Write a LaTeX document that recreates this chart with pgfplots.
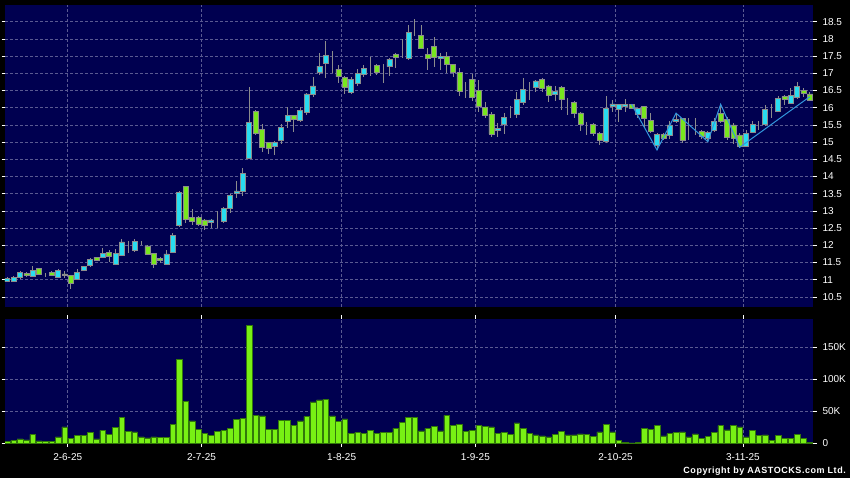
\documentclass[border=0pt]{standalone}
\usepackage{pgfplots}
\pgfplotsset{compat=1.18}
\usepackage{pgfplotstable}
\usepackage{fontspec}
\setmainfont{Liberation Sans}
\definecolor{panel}{RGB}{0,0,80}
\definecolor{gridc}{RGB}{90,90,145}
\definecolor{upc}{RGB}{40,220,240}
\definecolor{dnc}{RGB}{120,230,30}
\definecolor{outl}{RGB}{140,140,140}
\definecolor{zz}{RGB}{50,150,220}
\definecolor{volc}{RGB}{120,240,20}
\definecolor{voledge}{RGB}{50,120,10}

\pgfplotstableread{
k o h l c
0 10.95 11.07 10.92 11.03
1 10.95 11.10 10.93 11.07
2 11.06 11.24 11.03 11.21
3 11.19 11.22 11.08 11.12
4 11.10 11.40 11.08 11.28
5 11.33 11.35 11.15 11.17
6 11.13 11.18 11.07 11.13
7 11.22 11.24 11.10 11.13
8 11.08 11.30 11.06 11.28
9 11.17 11.26 11.05 11.12
10 11.13 11.14 10.72 10.90
11 11.01 11.30 11.00 11.21
12 11.27 11.40 11.26 11.39
13 11.42 11.62 11.38 11.59
14 11.65 11.67 11.55 11.57
15 11.64 11.91 11.62 11.77
16 11.80 11.85 11.51 11.67
17 11.45 11.89 11.43 11.77
18 11.71 12.17 11.68 12.10
19 11.96 12.12 11.77 11.96
20 11.85 12.17 11.80 12.12
21 12.07 12.13 12.00 12.07
22 11.98 12.02 11.72 11.74
23 11.77 11.79 11.33 11.45
24 11.61 11.67 11.49 11.56
25 11.45 11.85 11.43 11.75
26 11.80 12.36 11.78 12.28
27 12.58 13.57 12.52 13.54
28 13.70 13.72 12.65 12.75
29 12.80 13.05 12.59 12.70
30 12.80 12.85 12.56 12.61
31 12.74 12.77 12.44 12.58
32 12.67 12.76 12.49 12.74
33 12.76 13.00 12.50 12.76
34 12.69 13.10 12.66 13.08
35 13.08 13.49 12.93 13.46
36 13.51 13.87 13.38 13.58
37 13.56 14.25 13.44 14.09
38 14.53 16.61 14.50 15.58
39 15.90 15.93 15.20 15.26
40 15.37 15.53 14.72 14.85
41 14.99 15.00 14.66 14.82
42 14.87 15.02 14.62 15.00
43 15.04 15.52 14.95 15.43
44 15.59 16.01 15.40 15.77
45 15.77 15.79 15.30 15.65
46 15.64 16.02 15.59 15.91
47 15.88 16.42 15.80 16.40
48 16.39 16.90 16.30 16.63
49 17.02 17.60 16.95 17.21
50 17.28 17.95 16.85 17.53
51 17.39 17.65 17.00 17.39
52 17.12 17.25 16.72 16.90
53 16.88 16.92 16.41 16.58
54 16.44 16.89 16.40 16.83
55 16.71 17.12 16.62 17.00
56 16.98 17.25 16.90 17.15
57 17.26 17.46 16.92 17.26
58 17.22 17.27 16.95 17.02
59 17.12 17.26 16.73 17.12
60 17.19 17.45 16.92 17.41
61 17.55 17.58 17.14 17.45
62 17.60 17.99 17.45 17.60
63 17.44 18.40 17.40 18.19
64 18.26 18.58 18.09 18.26
65 18.09 18.40 17.70 17.73
66 17.55 17.73 17.10 17.44
67 17.79 18.05 17.19 17.45
68 17.44 17.60 17.10 17.49
69 17.50 17.63 17.00 17.26
70 17.26 17.28 16.90 17.03
71 17.03 17.14 16.34 16.47
72 16.58 16.76 16.27 16.58
73 16.83 16.97 16.19 16.29
74 16.51 16.81 15.87 16.03
75 16.01 16.16 15.69 15.77
76 15.81 15.88 15.16 15.23
77 15.33 15.55 15.16 15.40
78 15.53 15.84 15.23 15.72
79 15.79 16.05 15.69 15.79
80 15.81 16.45 15.69 16.24
81 16.17 16.87 16.08 16.54
82 16.56 16.76 16.22 16.56
83 16.58 16.80 16.45 16.78
84 16.83 16.85 16.45 16.56
85 16.63 16.66 16.17 16.37
86 16.39 16.63 16.20 16.48
87 16.60 16.62 15.93 16.24
88 16.22 16.27 15.79 16.22
89 16.16 16.18 15.69 15.85
90 15.85 15.87 15.32 15.52
91 15.42 15.59 15.21 15.42
92 15.52 15.54 15.19 15.26
93 15.26 15.28 14.92 15.04
94 15.01 16.34 14.98 15.98
95 16.05 16.22 15.88 16.11
96 15.95 16.12 15.59 16.10
97 16.03 16.25 15.88 16.10
98 16.10 16.12 15.95 15.98
99 15.81 16.00 15.69 15.98
100 16.03 16.05 15.45 15.69
101 15.63 15.85 15.28 15.30
102 14.90 15.26 14.77 15.23
103 15.23 15.26 15.05 15.11
104 15.21 15.60 15.10 15.50
105 15.59 15.84 15.55 15.66
106 15.69 15.70 14.96 15.04
107 15.26 15.71 15.06 15.26
108 15.25 15.70 15.20 15.25
109 15.32 15.35 15.10 15.18
110 15.11 15.32 15.01 15.29
111 15.35 15.70 15.30 15.61
112 15.84 16.08 15.55 15.59
113 15.67 15.72 15.05 15.13
114 15.50 15.55 14.95 15.11
115 15.21 15.26 14.85 14.87
116 14.87 15.35 14.85 15.26
117 15.29 15.62 15.25 15.52
118 15.48 15.60 15.35 15.48
119 15.52 16.08 15.48 15.95
120 15.98 16.10 15.70 15.98
121 15.90 16.35 15.88 16.27
122 16.32 16.37 16.08 16.25
123 16.13 16.56 16.10 16.35
124 16.30 16.76 16.25 16.61
125 16.51 16.56 16.30 16.42
126 16.40 16.45 16.20 16.22
}\ohlc

\pgfplotstableread{
k v
0 2.6
1 4.7
2 6.8
3 5.2
4 14
5 3.6
6 3.1
7 3.1
8 9.9
9 25.5
10 7.8
11 12
12 12
13 17
14 6.8
15 20
16 13.5
17 24.5
18 40
19 19
20 17.7
21 9.9
22 8.3
23 9.9
24 8.9
25 8.9
26 29.7
27 131
28 65
29 35
30 21.4
31 15
32 12
33 18.2
34 20.3
35 23.4
36 37
37 38.5
38 184
39 44
40 42.7
41 21.4
42 21.4
43 36
44 36
45 28
46 35
47 41.7
48 64.6
49 68
50 68.8
51 43
52 34
53 38
54 16
55 17
56 15.6
57 20.3
58 15.6
59 17
60 17
61 23.4
62 32.8
63 40.6
64 40.6
65 19.5
66 23.4
67 26.6
68 19.3
69 43.8
70 28
71 29
72 18.2
73 20.3
74 28
75 26.6
76 25.5
77 16
78 16.7
79 13.5
80 31.8
81 23
82 16
83 13
84 11.5
85 10
86 14
87 18.8
88 13
89 13
90 14.6
91 13.5
92 10.4
93 17.7
94 29.7
95 17.7
96 4.2
97 1.6
98 0.5
99 1.6
100 23
101 21.4
102 27.6
103 11.5
104 15
105 17
106 17.7
107 10
108 14.6
109 7.3
110 11
111 16.7
112 27.6
113 20.8
114 27.6
115 25.5
116 10
117 20.3
118 12.5
119 13
120 4.2
121 12.5
122 7.3
123 7.3
124 13.5
125 7.8
126 1
}\vol

\pgfplotsset{
  panelaxis/.style={
    scale only axis, width=808pt, xmin=-0.35, xmax=126.5,
    anchor=south west, axis line style={draw=none},
  },
  pricegeom/.style={panelaxis, at={(5pt,171pt)}, height=302pt, ymin=10.206, ymax=18.985},
  volgeom/.style={panelaxis, at={(5pt,34.7pt)}, height=124.3pt, ymin=0, ymax=194.2},
  ticklook/.style={
    xtick={9.5,30.5,52.5,73.5,95.5,115.5},
    tick align=outside, major tick length=3.5pt,
    yticklabel pos=right,
    ytick style={white, line width=0.5pt},
    tick label style={white, font=\fontsize{10}{12}\selectfont},
    yticklabel style={xshift=2.5pt},
    /pgf/number format/assume math mode=true,
    grid=major, major grid style={gridc, dash pattern=on 3pt off 2pt, line width=0.5pt},
    axis background/.style={fill=panel},
  },
}

\begin{document}
\begin{tikzpicture}
\path[use as bounding box] (0pt,0pt) rectangle (850pt,478pt);
\fill[black] (0pt,0pt) rectangle (850pt,478pt);

% price panel: background, grid, ticks, wicks
\begin{axis}[pricegeom, ticklook,
  xticklabels={}, xtick style={draw=none},
  ytick={10.5,11,11.5,12,12.5,13,13.5,14,14.5,15,15.5,16,16.5,17,17.5,18,18.5},
  yticklabel style={/pgf/number format/.cd, fixed, precision=1, assume math mode=true},
]
\addplot[draw=none, mark=none, forget plot,
  error bars/.cd, y dir=both, y explicit, error mark=none,
  error bar style={draw=outl, line width=0.9pt, solid}]
  table[x=k, y=c, y error plus expr=\thisrow{h}-\thisrow{c}, y error minus expr=\thisrow{c}-\thisrow{l}] {\ohlc};
\end{axis}

% candle bodies
\begin{axis}[pricegeom, hide axis, ybar stacked, bar width=5pt]
\addplot[fill=none, draw=none] table[x=k, y expr={min(\thisrow{o},\thisrow{c})}] {\ohlc};
\addplot[fill=upc, draw=outl, line width=0.6pt] table[x=k, y expr={max(\thisrow{c}-\thisrow{o},0)}] {\ohlc};
\addplot[fill=dnc, draw=outl, line width=0.6pt] table[x=k, y expr={max(\thisrow{o}-\thisrow{c},0)}] {\ohlc};
\end{axis}

% zigzag overlay
\begin{axis}[pricegeom, hide axis]
\addplot[zz, line width=1pt, mark=none] coordinates {(98,16.10) (102,14.77) (105,15.84) (110,15.01) (112,16.10) (115,14.85) (126,16.32)};
\end{axis}

% volume panel
\begin{axis}[volgeom, ticklook,
  xticklabels={2-6-25,2-7-25,1-8-25,1-9-25,2-10-25,3-11-25},
  xtick style={white, line width=0.5pt},
  xticklabel style={yshift=-3pt},
  ytick={0,50,100,150}, yticklabels={0,50K,100K,150K},
  ybar, bar width=5.6pt,
]
\addplot[fill=volc, draw=voledge, line width=0.5pt] table[x=k, y=v] {\vol};
\end{axis}

\node[anchor=south east, white, font=\addfontfeature{LetterSpace=6}\bfseries\fontsize{9}{10}\selectfont, inner sep=0pt] at (846pt,2pt) {Copyright by AASTOCKS.com Ltd.};
\end{tikzpicture}
\end{document}
